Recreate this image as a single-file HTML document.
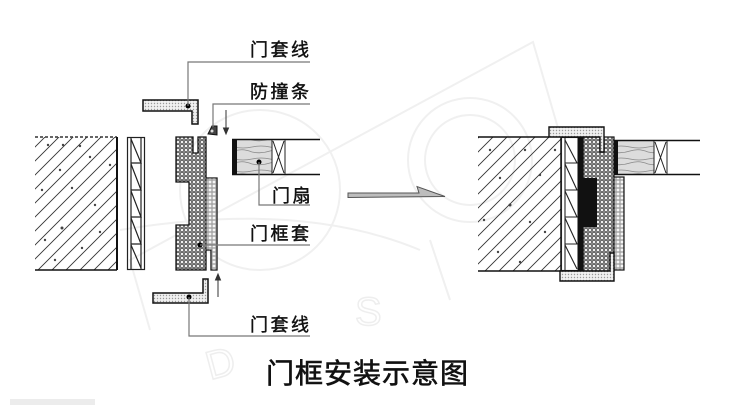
<!DOCTYPE html>
<html><head><meta charset="utf-8"><style>
html,body{margin:0;padding:0;background:#fff;}
svg{display:block;}
text{font-family:"Liberation Sans","Noto Sans CJK SC",sans-serif;}
</style></head><body>
<svg width="734" height="417" viewBox="0 0 734 417" xmlns="http://www.w3.org/2000/svg">
<defs>
  <pattern id="hatch" width="14" height="14" patternUnits="userSpaceOnUse">
    <path d="M0,14 L14,0 M-2,2 L2,-2 M12,16 L16,12" stroke="#333" stroke-width="0.9"/>
  </pattern>
  <pattern id="dark" width="4" height="4" patternUnits="userSpaceOnUse">
    <rect width="4" height="4" fill="#555"/>
    <circle cx="2" cy="2" r="1.3" fill="#f0f0f0"/>
    <circle cx="0" cy="0" r="0.7" fill="#ccc"/>
    <circle cx="4" cy="4" r="0.7" fill="#ccc"/>
    <circle cx="4" cy="0" r="0.7" fill="#ccc"/>
    <circle cx="0" cy="4" r="0.7" fill="#ccc"/>
  </pattern>
  <pattern id="light" width="4" height="4" patternUnits="userSpaceOnUse">
    <rect width="4" height="4" fill="#aaa"/>
    <circle cx="2" cy="2" r="1.4" fill="#f6f6f6"/>
  </pattern>
  <pattern id="casing" width="3" height="3" patternUnits="userSpaceOnUse">
    <rect width="3" height="3" fill="#f0f0f0"/>
    <circle cx="1.5" cy="1.5" r="0.7" fill="#999"/>
  </pattern>
  <pattern id="wood" width="36" height="12" patternUnits="userSpaceOnUse">
    <rect width="36" height="12" fill="#dcdcdc"/>
    <path d="M0,3 Q9,1 18,3 T36,3 M0,8 Q9,10 18,7 T36,8" stroke="#888" stroke-width="0.8" fill="none"/>
  </pattern>
</defs>

<!-- faint watermark -->
<g stroke="#f0f0f0" stroke-width="2" fill="none">
  <path d="M150,330 L130,260 L533,42 L560,135"/>
  <circle cx="470" cy="160" r="45"/>
  <circle cx="470" cy="160" r="62"/>
  <circle cx="260" cy="190" r="80"/>
  <path d="M120,230 Q300,200 420,250"/>
  <path d="M430,240 L450,300"/>
</g>
<g font-size="40">
  <text x="210" y="380" fill="none" stroke="#eeeeee" stroke-width="1.5" transform="rotate(-15 210 380)">D</text>
  <text x="355" y="325" fill="none" stroke="#eeeeee" stroke-width="1.5">S</text>
</g>

<!-- LEFT WALL -->
<rect x="35" y="137" width="82" height="133" fill="url(#hatch)"/>
<g fill="#444">
  <circle cx="48" cy="145" r="1.2"/><circle cx="63" cy="145" r="1.2"/><circle cx="80" cy="146" r="1.2"/>
  <circle cx="60" cy="170" r="1.2"/><circle cx="90" cy="157" r="1.2"/><circle cx="42" cy="190" r="1.2"/>
  <circle cx="72" cy="188" r="1.2"/><circle cx="95" cy="205" r="1.2"/><circle cx="62" cy="228" r="1.5"/>
  <circle cx="45" cy="240" r="1.2"/><circle cx="82" cy="248" r="1.2"/><circle cx="100" cy="232" r="1.2"/>
  <circle cx="110" cy="165" r="1.2"/><circle cx="55" cy="260" r="1.2"/>
</g>
<line x1="35" y1="137" x2="117" y2="137" stroke="#333" stroke-width="1.5" stroke-dasharray="3,2"/>
<line x1="117" y1="137" x2="117" y2="270" stroke="#111" stroke-width="2"/>
<line x1="35" y1="270" x2="117" y2="270" stroke="#111" stroke-width="1.5"/>

<!-- LEFT PANEL -->
<g stroke="#222" stroke-width="1.2" fill="none">
  <rect x="127.5" y="137.5" width="17" height="132"/>
  <line x1="131" y1="138" x2="131" y2="269"/>
  <line x1="141" y1="138" x2="141" y2="269"/>
  <path d="M131,139 L141,163 L131,163 M131,164 L141,190 L131,190 M131,191 L141,217 L131,217 M131,218 L141,244 L131,244 M131,245 L141,268"/>
</g>

<!-- LEFT FRAME (门框套) -->
<path d="M176,137 L193,137 L193,153 L198,153 L198,137 L206,137 L206,178 L217,178 L217,270 L211,270 L211,250 L206,250 L206,270 L176,270 L176,225 L189,225 L189,182 L176,182 Z" fill="url(#dark)" stroke="#111" stroke-width="1.3"/>
<path d="M206,178 L217,178 L217,270 L211,270 L211,250 L206,250 Z" fill="url(#light)" stroke="#111" stroke-width="1"/>
<circle cx="200" cy="245" r="2.5" fill="#000"/>

<!-- TOP CASING -->
<path d="M143,100 L198,100 L198,124 L192,124 L192,111 L143,111 Z" fill="url(#casing)" stroke="#111" stroke-width="1.5"/>
<circle cx="188" cy="106" r="2.5" fill="#000"/>

<!-- bumper strip -->
<path d="M208,134 L212,126 L217,126 L217,135 Z" fill="#444" stroke="#111" stroke-width="1"/>
<circle cx="212" cy="131" r="1.5" fill="#ddd"/>

<!-- arrows small -->
<g stroke="#333" stroke-width="1" fill="#333">
  <line x1="226" y1="110" x2="226" y2="130"/>
  <path d="M223.5,128 L226,134 L228.5,128 Z"/>
  <line x1="218" y1="297" x2="218" y2="278"/>
  <path d="M215.5,280 L218,274 L220.5,280 Z"/>
</g>

<!-- BOTTOM CASING -->
<path d="M153,293 L203,293 L203,279 L208,279 L208,303 L153,303 Z" fill="url(#casing)" stroke="#111" stroke-width="1.5"/>
<circle cx="189" cy="297" r="2.5" fill="#000"/>

<!-- LEFT DOOR LEAF -->
<rect x="237" y="140" width="35" height="34" fill="url(#wood)"/>
<rect x="232" y="139" width="5" height="36" fill="#111"/>
<g stroke="#111" stroke-width="1.6" fill="none">
  <line x1="232" y1="139.5" x2="320" y2="139.5"/>
  <line x1="232" y1="174.5" x2="320" y2="174.5"/>
</g>
<g stroke="#222" stroke-width="1" fill="none">
  <line x1="272" y1="140" x2="272" y2="174"/>
  <line x1="285" y1="140" x2="285" y2="174"/>
  <path d="M273,141 L284,173 M284,141 L273,173"/>
</g>
<circle cx="259" cy="162" r="2.5" fill="#000"/>

<!-- LEADERS -->
<g stroke="#777" stroke-width="1.2" fill="none">
  <polyline points="188,106 188,62 310,62"/>
  <polyline points="213,127 213,104 310,104"/>
  <polyline points="259,162 259,205 310,205"/>
  <polyline points="200,245 310,245"/>
  <polyline points="189,297 189,336 310,336"/>
</g>

<!-- LABELS -->
<g font-size="18" fill="#111" stroke="#111" stroke-width="0.45" letter-spacing="2.5">
  <text x="250" y="56">门套线</text>
  <text x="250" y="98">防撞条</text>
  <text x="272" y="202">门扇</text>
  <text x="250" y="240">门框套</text>
  <text x="250" y="331">门套线</text>
</g>

<!-- BIG ARROW -->
<path d="M348,193 L419,193 L417,186.5 L445,196.5 L348,197.5 Z" fill="#bdbdbd" stroke="#555" stroke-width="1"/>

<!-- RIGHT WALL -->
<rect x="478" y="137" width="83" height="134" fill="url(#hatch)"/>
<g fill="#444">
  <circle cx="490" cy="150" r="1.2"/><circle cx="525" cy="150" r="1.2"/><circle cx="500" cy="178" r="1.2"/>
  <circle cx="540" cy="175" r="1.2"/><circle cx="510" cy="205" r="1.5"/><circle cx="530" cy="222" r="1.2"/>
  <circle cx="484" cy="220" r="1.2"/><circle cx="545" cy="232" r="1.2"/><circle cx="498" cy="252" r="1.2"/>
  <circle cx="520" cy="262" r="1.2"/><circle cx="555" cy="150" r="1.2"/>
</g>
<line x1="478" y1="137" x2="549" y2="137" stroke="#111" stroke-width="1.5"/>
<line x1="478" y1="271" x2="561" y2="271" stroke="#111" stroke-width="1.5"/>
<line x1="561" y1="137" x2="561" y2="271" stroke="#111" stroke-width="1.5"/>

<!-- RIGHT PANEL -->
<g stroke="#222" stroke-width="1.1" fill="none">
  <rect x="561.5" y="137.5" width="16.5" height="133"/>
  <line x1="565" y1="138" x2="565" y2="270"/>
  <path d="M565,140 L577,163 L565,163 M565,164 L577,190 L565,190 M565,191 L577,217 L565,217 M565,218 L577,244 L565,244 M565,245 L577,269"/>
</g>

<!-- RIGHT FRAME -->
<rect x="583" y="137" width="31" height="134" fill="url(#dark)" stroke="#111" stroke-width="1.2"/>
<rect x="614" y="177" width="10" height="93" fill="url(#light)" stroke="#111" stroke-width="1.2"/>
<rect x="578" y="137" width="5" height="134" fill="#111"/>
<rect x="582" y="178" width="15" height="49" fill="#111"/>

<!-- RIGHT CASINGS -->
<path d="M549,127 L604,127 L604,152 L600,152 L600,137 L549,137 Z" fill="url(#casing)" stroke="#111" stroke-width="1.4"/>
<path d="M560,271 L610,271 L610,253 L614,253 L614,281 L560,281 Z" fill="url(#casing)" stroke="#111" stroke-width="1.4"/>

<!-- RIGHT DOOR LEAF -->
<rect x="618" y="141" width="36" height="33" fill="url(#wood)"/>
<rect x="614" y="140" width="4" height="35" fill="#111"/>
<g stroke="#111" stroke-width="1.6" fill="none">
  <line x1="614" y1="140.5" x2="700" y2="140.5"/>
  <line x1="614" y1="174.5" x2="700" y2="174.5"/>
</g>
<g stroke="#222" stroke-width="1" fill="none">
  <line x1="654" y1="141" x2="654" y2="174"/>
  <line x1="667" y1="141" x2="667" y2="174"/>
  <path d="M655,142 L666,173 M666,142 L655,173"/>
</g>

<!-- TITLE -->
<text x="266" y="383" font-size="28" fill="#111" stroke="#111" stroke-width="0.6" letter-spacing="1">门框安装示意图</text>

<!-- tiny watermark bottom-left -->
<rect x="10" y="399" width="85" height="6" fill="#ececec"/>
</svg>
</body></html>
